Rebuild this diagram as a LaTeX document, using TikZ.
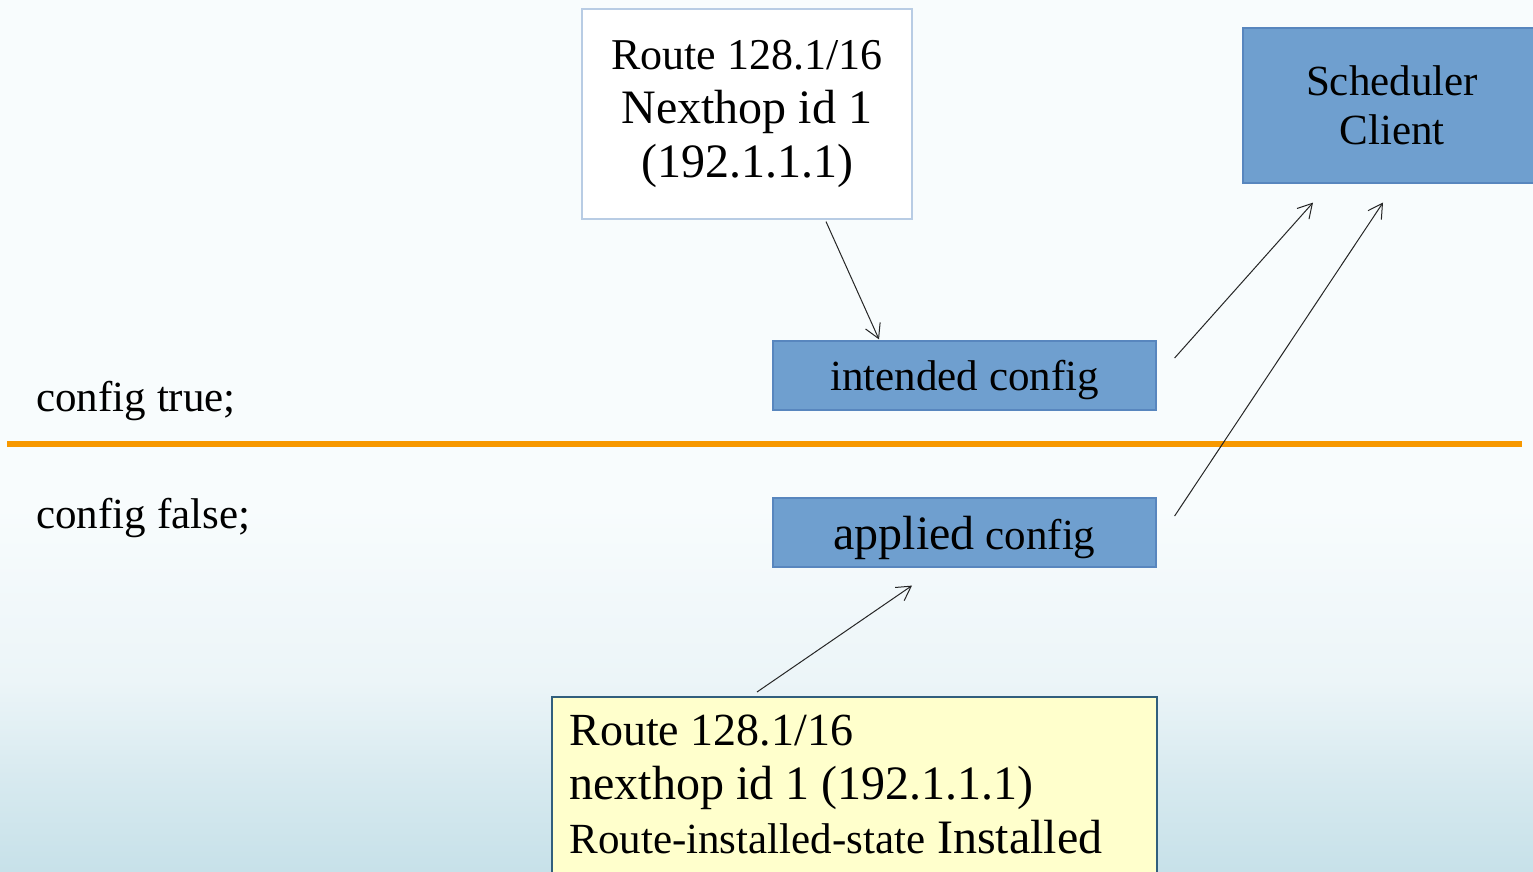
\documentclass[tikz,border=0pt]{standalone}
\usepackage{xcolor}
\usepackage{fontspec}
\setmainfont{Liberation Serif}
\usetikzlibrary{calc, positioning, arrows.meta}

\definecolor{boxblue}{RGB}{111,159,207}
\definecolor{boxedge}{RGB}{88,134,190}
\definecolor{noteyellow}{RGB}{255,255,204}
\definecolor{noteedge}{RGB}{49,95,125}
\definecolor{routeedge}{RGB}{184,204,228}
\definecolor{divorange}{RGB}{247,152,0}
\definecolor{skytop}{RGB}{248,252,253}
\definecolor{skylow}{RGB}{236,245,248}
\definecolor{skymid}{RGB}{214,233,239}
\definecolor{skybot}{RGB}{199,225,233}

% pale sky, turning blue only near the bottom
\pgfdeclareverticalshading{sky}{100bp}{color(0bp)=(skybot); color(25bp)=(skybot);
  color(30bp)=(skymid); color(36bp)=(skylow); color(46bp)=(skytop); color(100bp)=(skytop)}

\begin{document}
\begin{tikzpicture}[x=0.5pt,y=-0.5pt,
                    big/.style={font=\fontsize{24}{27}\selectfont},
                    small/.style={font=\fontsize{21.5}{24.5}\selectfont},
                    route node/.style={rectangle,draw=routeedge,fill=white,line width=0.6pt,
                      minimum width=165pt,minimum height=105pt,align=center,big},
                    blue node/.style={rectangle,draw=boxedge,fill=boxblue,line width=0.6pt,
                      inner sep=0pt,align=center,small},
                    note node/.style={rectangle,draw=noteedge,fill=noteyellow,line width=1.2pt,
                      anchor=north west,minimum width=302.5pt,minimum height=120pt},
                    note text/.style={anchor=north west,align=flush left,inner sep=0pt,big},
                    link/.style={-{Straight Barb[length=7pt,width=8pt]},line width=0.5pt,black!85}]

  % page and background
  \clip (0,0) rectangle (1533,872);
  \shade[shading=sky] (0,0) rectangle (1533,872);

  \node[route node] (1) at (747,114)
    {{\fontsize{22}{27}\selectfont Route 128.1/16}\\Nexthop id 1\\(192.1.1.1)};
  \node[blue node,minimum width=149pt,minimum height=77.5pt] (2) at (1392,105.5)
    {Scheduler\\Client};
  \node[blue node,minimum width=191.5pt,minimum height=34.5pt,text depth=0pt] (3) at (964.5,375.5)
    {intended config};
  \node[blue node,minimum width=191.5pt,minimum height=34.5pt,text depth=0pt] (4) at (964.5,532.5)
    {{\fontsize{24}{27}\selectfont applied} config};
  \node[note node] (5) at (551,696) {};
  \node[note text] (5t) at ($(5.north west)+(18,19)$)
    {{\fontsize{23}{27}\selectfont Route 128.1/16}\\
     nexthop id 1 (192.1.1.1)\\
     {\fontsize{21.5}{27}\selectfont Route-installed-state} Installed};

  \node[small,anchor=base west,inner sep=0pt] (6) at (36,411) {config true;};
  \node[small,anchor=base west,inner sep=0pt] (7) at (36,528) {config false;};

  % true / false divider
  \draw[divorange,line width=3pt] (7,444) -- (1522,444);

  \path[link]
    ($(1.south)+(79,2)$) edge ($(3.north)+(-85.5,-1)$)
    ($(3.east)+(18,-17.5)$) edge ($(2.south)+(-79,19)$)
    ($(4.east)+(18,-16.5)$) edge ($(2.south)+(-9,19)$)
    ($(5.north west)+(206,-4)$) edge ($(4.south)+(-52.5,18)$);

\end{tikzpicture}
\end{document}
